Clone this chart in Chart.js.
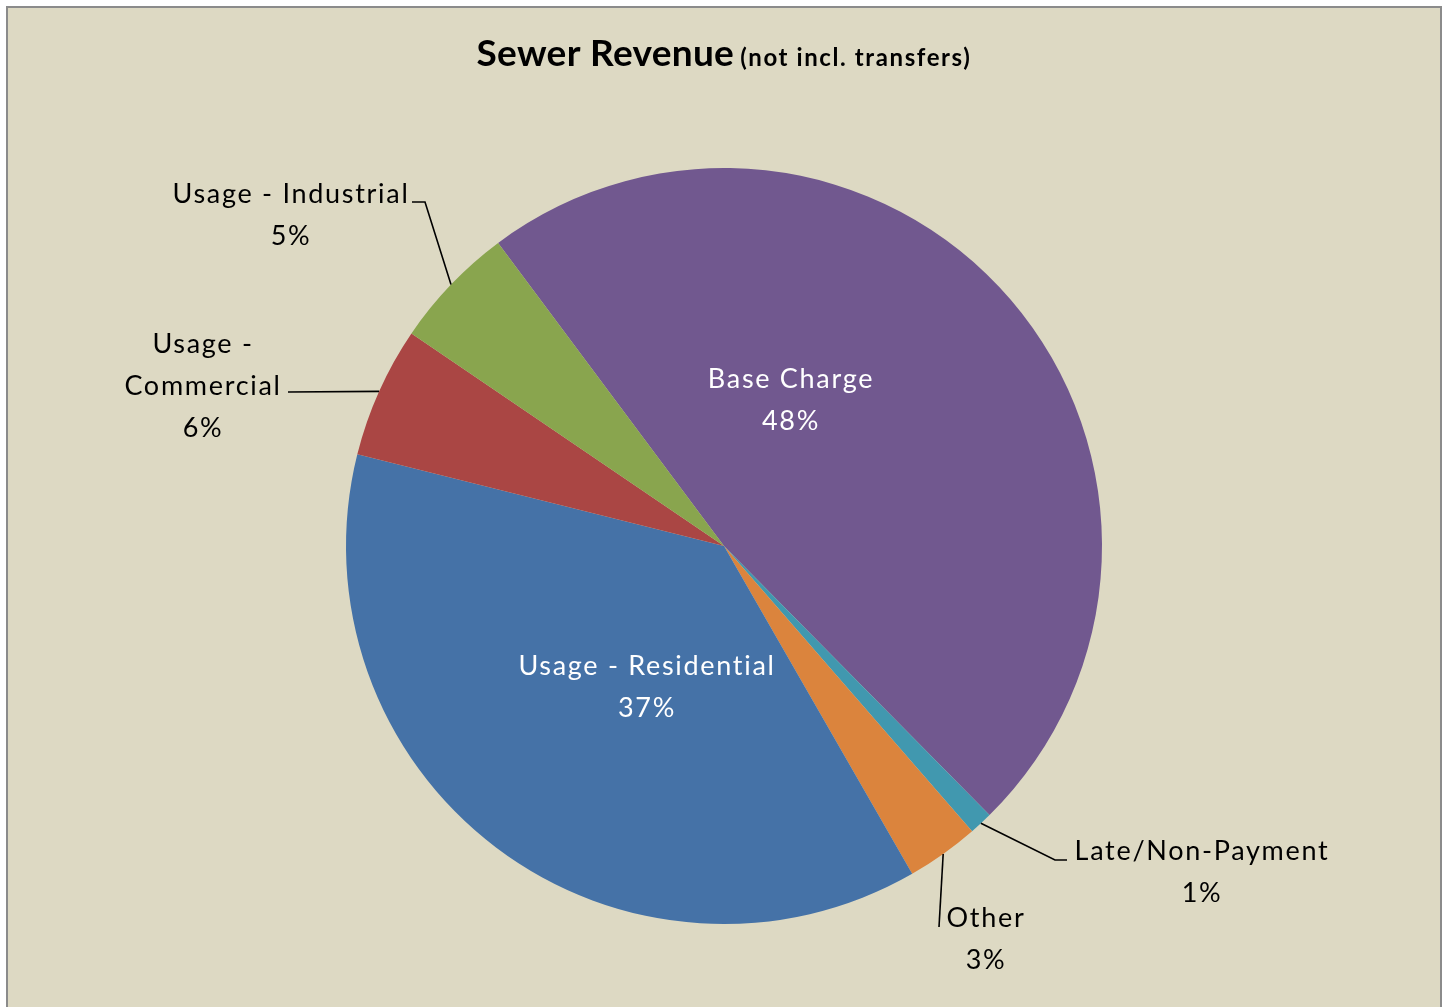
<!DOCTYPE html>
<html><head><meta charset="utf-8">
<script src="https://cdn.jsdelivr.net/npm/chart.js@4"></script>
<style>html,body{margin:0;padding:0;background:#fff;overflow:hidden}#c{display:block}</style>
</head><body>
<canvas id="c" width="1449" height="1007"></canvas>
<script>
// ---- data ----
const categories = ["Base Charge", "Late/Non-Payment", "Other", "Usage - Residential", "Usage - Commercial", "Usage - Industrial"];
const shares = [47.8, 1.0, 3.1, 37.2, 5.6, 5.3];
const labelLines = [["Base Charge"], ["Late/Non-Payment"], ["Other"], ["Usage - Residential"], ["Usage -", "Commercial"], ["Usage - Industrial"]];
const titleMain = "Sewer Revenue";
const titleSub = "(not incl. transfers)";

// ---- style ----
const colors = ["#71588F", "#4198AF", "#DB843D", "#4572A7", "#AA4644", "#89A54E"];
const FONT = "Lato, 'Open Sans', sans-serif";
const LABEL_SIZE = 27, LINE_H = 42;
// label placement relative to pie centre, in px for a 378px radius
const placement = [
  {inside: true, x: 66, y: -158},
  {x: 477, y: 314, elbow: [331, 314], attach: [343, 314]},
  {x: 261, y: 381, attach: [215, 381]},
  {inside: true, x: -78, y: 129},
  {x: -522, y: -193, attach: [-436, -154]},
  {x: -434, y: -343, elbow: [-299, -344], attach: [-312, -344]}
];

const framePlugin = {
  id: 'frame',
  beforeDraw(chart) {
    const ctx = chart.ctx;
    ctx.save();
    ctx.fillStyle = '#ffffff';
    ctx.fillRect(0, 0, chart.width, chart.height);
    ctx.fillStyle = '#DDD9C3';
    ctx.fillRect(7, 7, 1434, chart.height + 10);
    ctx.strokeStyle = '#8B8B8B';
    ctx.lineWidth = 2;
    ctx.strokeRect(7, 7, 1434, chart.height + 10);
    ctx.restore();
  },
  afterDatasetsDraw(chart) {
    const ctx = chart.ctx;
    const meta = chart.getDatasetMeta(0);
    const arc0 = meta.data[0];
    const cx = arc0.x, cy = arc0.y, R = arc0.outerRadius;
    const k = R / 378;
    const total = shares.reduce((a, b) => a + b, 0);
    ctx.save();
    // title
    ctx.textBaseline = 'alphabetic';
    ctx.fillStyle = '#000';
    ctx.letterSpacing = '0.3px';
    ctx.font = `bold 37px ${FONT}`;
    const w1 = ctx.measureText(titleMain).width;
    ctx.letterSpacing = '1.6px';
    ctx.font = `bold 24px ${FONT}`;
    const w2 = ctx.measureText(titleSub).width;
    const gap = 6;
    let tx = cx - (w1 + gap + w2) / 2;
    ctx.textAlign = 'left';
    ctx.letterSpacing = '0.3px';
    ctx.font = `bold 37px ${FONT}`;
    ctx.fillText(titleMain, tx, 66);
    ctx.letterSpacing = '1.6px';
    ctx.font = `bold 24px ${FONT}`;
    ctx.fillText(titleSub, tx + w1 + gap, 66);

    // labels
    ctx.letterSpacing = '1.7px';
    ctx.font = `${LABEL_SIZE}px ${FONT}`;
    ctx.textAlign = 'center';
    meta.data.forEach((arc, i) => {
      const p = placement[i];
      const lines = labelLines[i].concat([Math.round(shares[i] / total * 100) + '%']);
      ctx.fillStyle = p.inside ? '#ffffff' : '#000000';
      lines.forEach((ln, j) => {
        ctx.fillText(ln, cx + p.x * k + 1, cy + p.y * k + j * LINE_H);
      });
      if (!p.inside) {
        const mid = (arc.startAngle + arc.endAngle) / 2;
        const sx = cx + Math.cos(mid) * R, sy = cy + Math.sin(mid) * R;
        ctx.beginPath();
        ctx.strokeStyle = '#000';
        ctx.lineWidth = 1.6;
        ctx.moveTo(sx, sy);
        if (p.elbow) ctx.lineTo(cx + p.elbow[0] * k, cy + p.elbow[1] * k);
        ctx.lineTo(cx + p.attach[0] * k, cy + p.attach[1] * k);
        ctx.stroke();
      }
    });
    ctx.restore();
  }
};

new Chart(document.getElementById('c'), {
  type: 'pie',
  data: {
    labels: categories,
    datasets: [{
      data: shares,
      backgroundColor: colors,
      borderWidth: 0,
      hoverBorderWidth: 0,
      hoverOffset: 0
    }]
  },
  options: {
    responsive: false,
    animation: false,
    rotation: -36.7,
    layout: {padding: {left: 346, right: 347, top: 168, bottom: 83}},
    plugins: {legend: {display: false}, tooltip: {enabled: false}, title: {display: false}}
  },
  plugins: [framePlugin]
});
</script>
</body></html>
